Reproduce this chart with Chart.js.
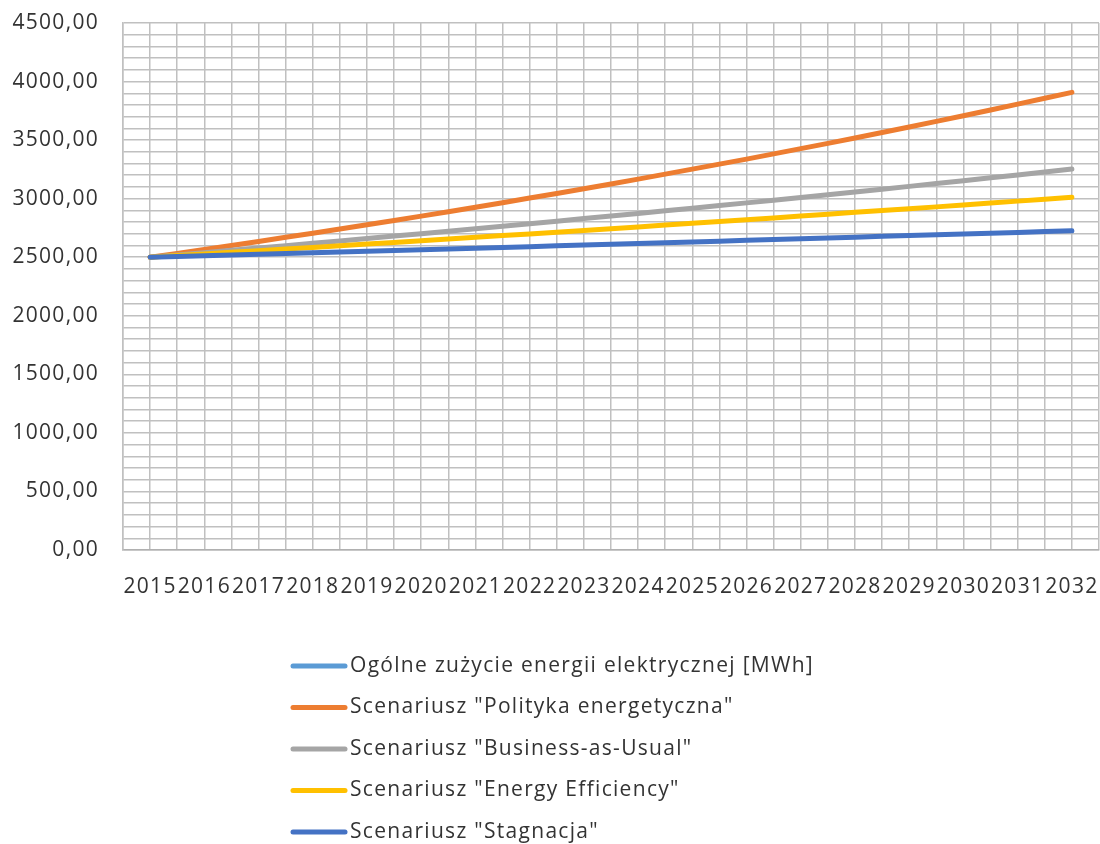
<!DOCTYPE html>
<html>
<head>
<meta charset="utf-8">
<script src="https://cdn.jsdelivr.net/npm/chart.js@4/dist/chart.umd.min.js"></script>
<style>
  html, body { margin: 0; padding: 0; background: #ffffff; }
  canvas { display: block; }
</style>
</head>
<body>
<canvas id="chart" width="1100" height="844"></canvas>
<script>
// Years on the horizontal axis
const years = [2015, 2016, 2017, 2018, 2019, 2020, 2021, 2022, 2023, 2024,
               2025, 2026, 2027, 2028, 2029, 2030, 2031, 2032];

// Total electricity use – only the base year is known
const ogolneZuzycie = [2500, null, null, null, null, null, null, null, null, null,
                       null, null, null, null, null, null, null, null];

// Scenario forecasts [MWh]
const politykaEnergetyczna = [2500, 2566, 2635, 2705, 2777, 2851, 2927, 3005, 3085, 3167,
                              3252, 3338, 3427, 3518, 3612, 3708, 3807, 3908];
const businessAsUsual = [2500, 2539, 2579, 2619, 2660, 2701, 2743, 2786, 2830, 2874,
                         2919, 2964, 3010, 3057, 3105, 3153, 3203, 3253];
const energyEfficiency = [2500, 2528, 2556, 2584, 2612, 2641, 2670, 2699, 2729, 2759,
                          2790, 2820, 2851, 2883, 2914, 2946, 2979, 3012];
const stagnacja = [2500, 2513, 2526, 2538, 2551, 2564, 2577, 2590, 2604, 2617,
                   2630, 2644, 2657, 2671, 2685, 2698, 2712, 2726];

// Series names
const seriesLabels = [
  'Ogólne zużycie energii elektrycznej [MWh]',
  'Scenariusz "Polityka energetyczna"',
  'Scenariusz "Business-as-Usual"',
  'Scenariusz "Energy Efficiency"',
  'Scenariusz "Stagnacja"'
];

// Value axis: labelled every 500, minor lines every 100
const yMin = 0, yMax = 4500, yLabelStep = 500, yGridStep = 100;

const FONT = '"Open Sans", "Noto Sans", sans-serif';
const TEXT_COLOR = '#333333';
const GRID_COLOR = '#c0c0c0';
const LETTER_SPACING = '1.3px';

const seriesValues = [ogolneZuzycie, politykaEnergetyczna, businessAsUsual, energyEfficiency, stagnacja];
const seriesColors = ['#5B9BD5', '#ED7D31', '#A5A5A5', '#FFC000', '#4472C4'];

const datasets = seriesValues.map((vals, i) => ({
  label: seriesLabels[i],
  data: years.map((yr, k) => ({ x: yr, y: vals[k] })),
  borderColor: seriesColors[i],
  backgroundColor: seriesColors[i],
  borderWidth: 5,
  borderCapStyle: 'round',
  borderJoinStyle: 'round',
  pointRadius: 0,
  pointHoverRadius: 0,
  tension: 0.2,
  fill: false,
  spanGaps: false,
  order: seriesValues.length - 1 - i
}));

// Slightly wider letter spacing for all canvas text
const textSpacing = {
  id: 'textSpacing',
  beforeInit(chart) { chart.ctx.letterSpacing = LETTER_SPACING; },
  beforeUpdate(chart) { chart.ctx.letterSpacing = LETTER_SPACING; },
  beforeDraw(chart) { chart.ctx.letterSpacing = LETTER_SPACING; }
};

// Legend stacked vertically under the plot
const stackedLegend = {
  id: 'stackedLegend',
  afterDraw(chart) {
    const ctx = chart.ctx;
    const x0 = 293, lineLen = 52, textGap = 5;
    const yStart = 666, rowGap = 41.5;
    ctx.save();
    ctx.font = '21px ' + FONT;
    ctx.textBaseline = 'middle';
    ctx.textAlign = 'left';
    chart.data.datasets.forEach((ds, i) => {
      const y = yStart + i * rowGap;
      ctx.strokeStyle = ds.borderColor;
      ctx.lineWidth = 5;
      ctx.lineCap = 'round';
      ctx.beginPath();
      ctx.moveTo(x0, y);
      ctx.lineTo(x0 + lineLen, y);
      ctx.stroke();
      ctx.fillStyle = TEXT_COLOR;
      ctx.fillText(ds.label, x0 + lineLen + textGap, y);
    });
    ctx.restore();
  }
};

new Chart(document.getElementById('chart'), {
  type: 'line',
  data: { datasets },
  plugins: [textSpacing, stackedLegend],
  options: {
    responsive: false,
    devicePixelRatio: 1,
    animation: false,
    events: [],
    layout: { padding: { top: 23, right: 1, bottom: 234, left: 0 } },
    plugins: {
      legend: { display: false },
      tooltip: { enabled: false }
    },
    scales: {
      x: {
        type: 'linear',
        min: years[0] - 0.5,
        max: years[years.length - 1] + 0.5,
        afterFit(scale) {
          scale.height = 60;
          scale.paddingLeft = 0;
          scale.paddingRight = 0;
        },
        ticks: {
          stepSize: 0.5,
          autoSkip: false,
          maxRotation: 0,
          color: TEXT_COLOR,
          font: { family: FONT, size: 21 },
          padding: 24,
          callback: v => Number.isInteger(v) ? String(v) : ''
        },
        grid: { color: GRID_COLOR, lineWidth: 1.5, drawTicks: false },
        border: { color: '#b0b0b0', width: 1.5 }
      },
      y: {
        min: yMin,
        max: yMax,
        afterFit(scale) {
          scale.width = 123;
          scale.paddingTop = 0;
          scale.paddingBottom = 0;
        },
        ticks: {
          stepSize: yGridStep,
          autoSkip: false,
          color: TEXT_COLOR,
          font: { family: FONT, size: 21 },
          padding: 24,
          callback: v => (v % yLabelStep === 0) ? v.toFixed(2).replace('.', ',') : ''
        },
        grid: { color: GRID_COLOR, lineWidth: 1.5, drawTicks: false },
        border: { color: GRID_COLOR, width: 1.5 }
      }
    }
  }
});
</script>
</body>
</html>
